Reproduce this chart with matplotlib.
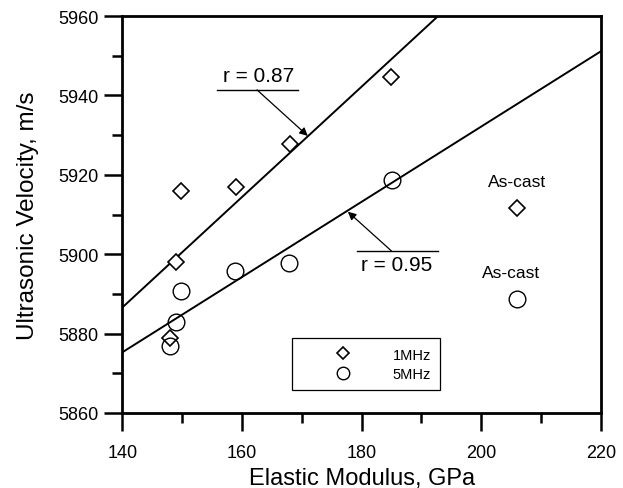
import numpy as np
import matplotlib
matplotlib.use('Agg')
import matplotlib.pyplot as plt
from matplotlib.ticker import MultipleLocator

plt.rcParams['font.family'] = ['Liberation Sans', 'DejaVu Sans']

# data
mod_1mhz = [148.0, 149.0, 149.8, 159.0, 168.0, 184.9]
vel_1mhz = [5878.9, 5898.0, 5915.9, 5916.9, 5927.8, 5944.6]
mod_5mhz = [148.0, 149.0, 149.8, 158.8, 167.8, 185.0]
vel_5mhz = [5876.9, 5882.9, 5890.7, 5895.8, 5897.8, 5918.7]
ascast_mod = [206.0, 206.0]
ascast_vel = [5911.6, 5888.7]   # 1MHz, 5MHz

# regression lines (end points)
fit1_x = [140.0, 192.8]
fit1_y = [5886.6, 5960.0]
fit5_x = [140.0, 220.0]
fit5_y = [5875.3, 5951.1]

fig = plt.figure(figsize=(6.23, 4.89), dpi=100)
ax = fig.add_axes([0.1965, 0.1534, 0.7679, 0.8118])

ax.plot(fit1_x, fit1_y, color='k', lw=1.4)
ax.plot(fit5_x, fit5_y, color='k', lw=1.4)

h1, = ax.plot(mod_1mhz + [ascast_mod[0]], vel_1mhz + [ascast_vel[0]], ls='none',
              marker='D', ms=8, mfc='white', mec='k', mew=1.2, label='1MHz')
h5, = ax.plot(mod_5mhz + [ascast_mod[1]], vel_5mhz + [ascast_vel[1]], ls='none',
              marker='o', ms=12, mfc='none', mec='k', mew=1.0, label='5MHz')

# r annotations
ax.text(162.8, 5944.9, 'r = 0.87', fontsize=15, ha='center', va='center')
ax.plot([155.8, 169.4], [5941.4, 5941.4], color='k', lw=1)
ax.annotate('', xy=(171.0, 5929.8), xytext=(162.5, 5941.4),
            arrowprops=dict(arrowstyle='-|>', color='k', lw=0.9, mutation_scale=12,
                            shrinkA=0, shrinkB=0))

ax.text(185.9, 5897.5, 'r = 0.95', fontsize=15, ha='center', va='center')
ax.plot([179.2, 192.8], [5900.8, 5900.8], color='k', lw=1)
ax.annotate('', xy=(177.7, 5910.7), xytext=(185.0, 5900.8),
            arrowprops=dict(arrowstyle='-|>', color='k', lw=0.9, mutation_scale=12,
                            shrinkA=0, shrinkB=0))

ax.text(206.0, 5918.4, 'As-cast', fontsize=12.5, ha='center', va='center')
ax.text(205.0, 5895.3, 'As-cast', fontsize=12.5, ha='center', va='center')

ax.set_xlim(140, 220)
ax.set_ylim(5860, 5960)
ax.xaxis.set_major_locator(MultipleLocator(20))
ax.xaxis.set_minor_locator(MultipleLocator(10))
ax.yaxis.set_major_locator(MultipleLocator(20))
ax.yaxis.set_minor_locator(MultipleLocator(10))
ax.tick_params(which='major', direction='out', length=13, width=1.8, labelsize=13, pad=4)
ax.tick_params(which='minor', direction='out', length=7, width=1.8)
ax.tick_params(axis='x', which='major', pad=9)
for s in ax.spines.values():
    s.set_linewidth(2)

ax.set_xlabel('Elastic Modulus, GPa', fontsize=17, labelpad=5)
ax.set_ylabel('Ultrasonic Velocity, m/s', fontsize=17.5, labelpad=14)

leg = ax.legend(handles=[h1, h5], loc='lower left', bbox_to_anchor=(0.354, 0.0587),
                borderaxespad=0, fontsize=10.5, handlelength=5.75, handletextpad=0.55,
                borderpad=0.62, labelspacing=0.35, fancybox=False, framealpha=1,
                edgecolor='k', markerscale=0.75)
leg.get_frame().set_linewidth(0.9)

plt.savefig('out.png', dpi=100)
